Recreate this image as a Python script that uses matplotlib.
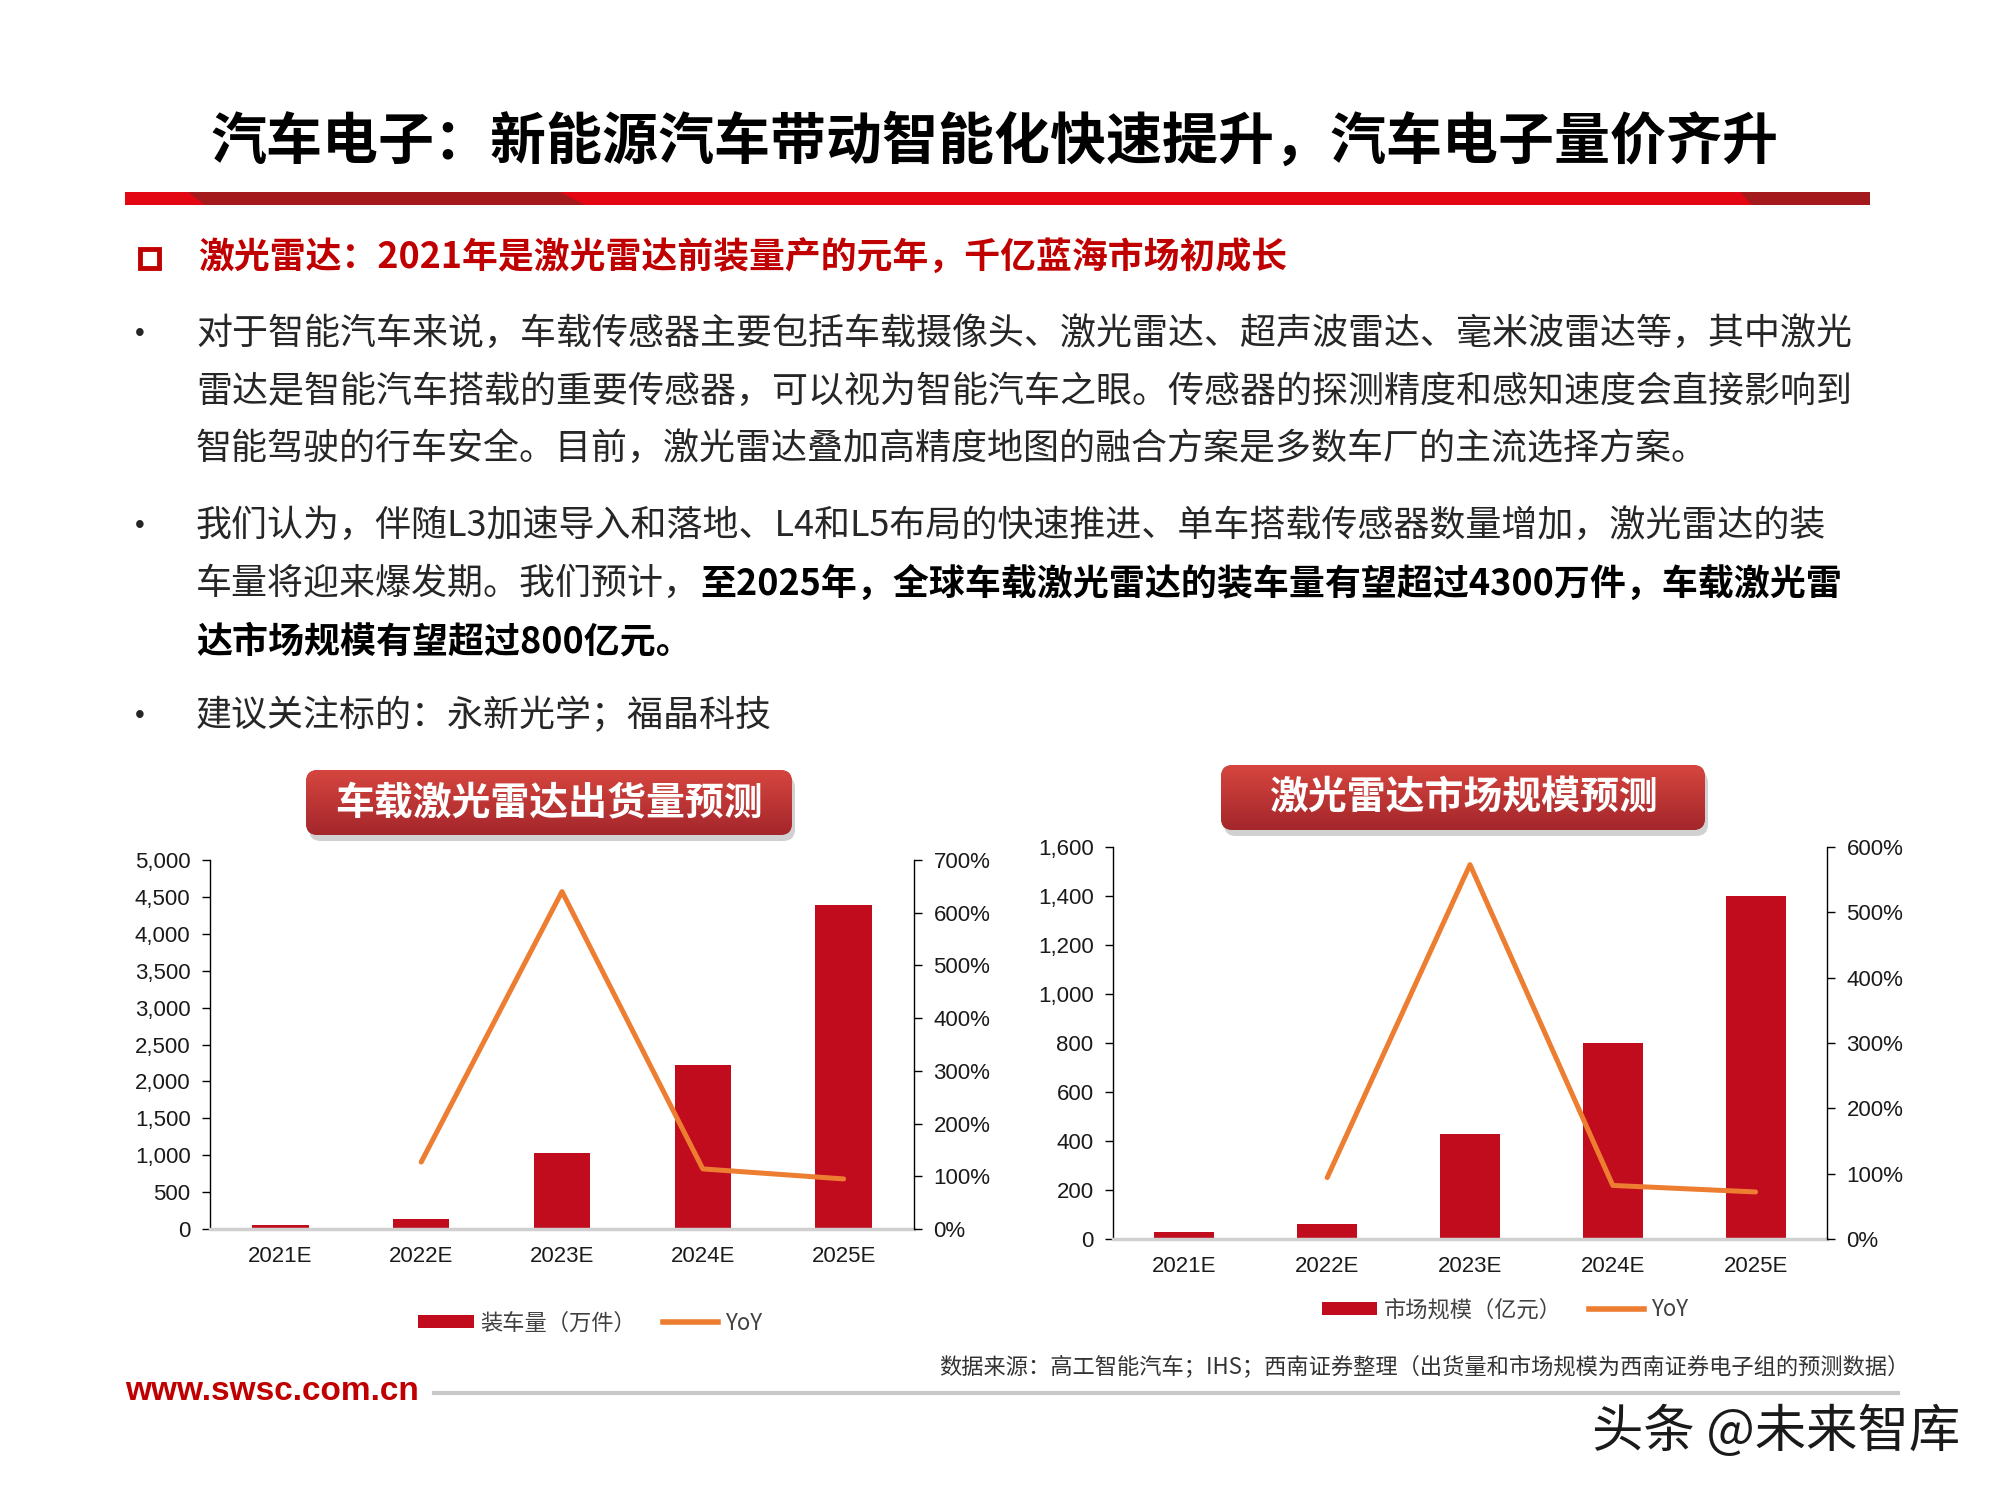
import numpy as np
import matplotlib
matplotlib.use('Agg')
import matplotlib.pyplot as plt
from matplotlib.patches import Rectangle, Polygon, FancyBboxPatch, Patch
from matplotlib.lines import Line2D
from matplotlib.colors import LinearSegmentedColormap
from matplotlib.ticker import FuncFormatter, MultipleLocator

plt.rcParams['font.family'] = ['Liberation Sans', 'Noto Sans CJK SC', 'DejaVu Sans']
CJK = ['Noto Sans CJK SC', 'DejaVu Sans']

# data
years = ['2021E', '2022E', '2023E', '2024E', '2025E']
units = [60, 135, 1034, 2219, 4397]               # 装车量（万件）
units_yoy = [np.nan, 1.27, 6.40, 1.14, 0.95]
market = [28, 61, 427, 801, 1399]                 # 市场规模（亿元）
market_yoy = [np.nan, 0.94, 5.73, 0.82, 0.72]

title = '汽车电子：新能源汽车带动智能化快速提升，汽车电子量价齐升'
subtitle = '激光雷达：2021年是激光雷达前装量产的元年，千亿蓝海市场初成长'
para1 = ['对于智能汽车来说，车载传感器主要包括车载摄像头、激光雷达、超声波雷达、毫米波雷达等，其中激光',
         '雷达是智能汽车搭载的重要传感器，可以视为智能汽车之眼。传感器的探测精度和感知速度会直接影响到',
         '智能驾驶的行车安全。目前，激光雷达叠加高精度地图的融合方案是多数车厂的主流选择方案。']
para2_a = '我们认为，伴随L3加速导入和落地、L4和L5布局的快速推进、单车搭载传感器数量增加，激光雷达的装'
para2_b = '车量将迎来爆发期。我们预计，'
para2_b_bold = '至2025年，全球车载激光雷达的装车量有望超过4300万件，车载激光雷'
para2_c_bold = '达市场规模有望超过800亿元。'
para3 = '建议关注标的：永新光学；福晶科技'
source = '数据来源：高工智能汽车；IHS；西南证券整理（出货量和市场规模为西南证券电子组的预测数据）'

RED = '#c00c1c'
ORANGE = '#ed7d31'
TXT = '#262626'
BODY = 25.9

fig = plt.figure(figsize=(20, 15), dpi=100)
bg = fig.add_axes([0, 0, 1, 1], zorder=0)
bg.set_autoscale_on(False)
bg.set_xlim(0, 2000)
bg.set_ylim(1500, 0)
bg.axis('off')

# title and red rule
bg.text(994, 143, title, family=CJK, weight='bold', fontsize=40.3, color='#000000',
        ha='center', va='center')
bg.add_patch(Rectangle((125, 192), 1745, 13, color='#e30613', lw=0))
bg.add_patch(Polygon([(188, 192), (560, 192), (585, 205), (205, 205)], color='#a3191c', lw=0))
bg.add_patch(Polygon([(1740, 192), (1870, 192), (1870, 205), (1752, 205)], color='#a3191c', lw=0))

# subtitle
bg.add_patch(Rectangle((140, 249), 19, 19, fill=False, ec='#c00000', lw=3.5))
bg.text(198, 258, subtitle, family=CJK, weight='bold', fontsize=25.8, color='#c00000',
        ha='left', va='center')

# body text
for y, line in zip([334, 392, 449], para1):
    bg.text(196, y, line, family=CJK, fontsize=BODY, color=TXT, ha='left', va='center')
bg.text(196, 526, para2_a, family=CJK, fontsize=BODY, color=TXT, ha='left', va='center')
t = bg.text(196, 584, para2_b, family=CJK, fontsize=BODY, color=TXT, ha='left', va='center')
r = fig.canvas.get_renderer()
x1 = t.get_window_extent(r).x1
bg.text(x1, 584, para2_b_bold, family=CJK, fontsize=BODY, weight='bold', color='#000000',
        ha='left', va='center')
bg.text(196, 642, para2_c_bold, family=CJK, fontsize=BODY, weight='bold', color='#000000',
        ha='left', va='center')
bg.text(196, 716, para3, family=CJK, fontsize=BODY, color=TXT, ha='left', va='center')
for y in [334, 526, 716]:
    bg.text(140, y, '•', fontsize=20, color=TXT, ha='center', va='center')

# chart title boxes
cmap = LinearSegmentedColormap.from_list('box', ['#d6463f', '#a4262b'])


def title_box(x0, y0, w, h, label):
    bg.add_patch(FancyBboxPatch((x0 + 3, y0 + 6), w, h, boxstyle='round,pad=0,rounding_size=12',
                                fc='#9a9a9a', ec='none', alpha=0.45))
    box = FancyBboxPatch((x0, y0), w, h, boxstyle='round,pad=0,rounding_size=12',
                         fc='#c0393b', ec='none')
    bg.add_patch(box)
    img = bg.imshow(np.linspace(0, 1, 100).reshape(-1, 1), cmap=cmap, aspect='auto',
                    extent=(x0, x0 + w, y0 + h, y0), zorder=2)
    img.set_clip_path(box)
    bg.text(x0 + w / 2, y0 + h / 2, label, family=CJK, weight='bold', fontsize=28,
            color='white', ha='center', va='center', zorder=3)


title_box(306, 770, 486, 65, '车载激光雷达出货量预测')
title_box(1221, 765, 484, 65, '激光雷达市场规模预测')


def chart(rect, values, yoy, ymax, ystep, rmax, bar_w, label, legend_xy):
    ax = fig.add_axes(rect, zorder=2)
    ax.patch.set_alpha(0)
    x = np.arange(len(years))
    ax.bar(x, values, width=bar_w, color=RED, zorder=2)
    ax.set_xlim(-0.5, len(years) - 0.5)
    ax.set_ylim(0, ymax)
    ax.yaxis.set_major_locator(MultipleLocator(ystep))
    ax.yaxis.set_major_formatter(FuncFormatter(lambda v, p: f'{v:,.0f}'))
    ax.set_xticks(x, years)
    ax.tick_params(axis='x', length=0, pad=12, labelsize=16, labelcolor='#1a1a1a')
    ax.tick_params(axis='y', direction='out', length=6, width=1, pad=8, labelsize=16,
                   labelcolor='#1a1a1a')
    ax.spines['top'].set_visible(False)
    ax.spines['right'].set_visible(False)
    ax.spines['left'].set_linewidth(1)
    ax.spines['bottom'].set_color('#d0d0d0')
    ax.spines['bottom'].set_linewidth(2.5)

    ax2 = ax.twinx()
    ax2.plot(x, yoy, color=ORANGE, lw=3.6, solid_capstyle='round')
    ax2.set_ylim(0, rmax)
    ax2.yaxis.set_major_locator(MultipleLocator(1))
    ax2.yaxis.set_major_formatter(FuncFormatter(lambda v, p: f'{v * 100:.0f}%'))
    ax2.tick_params(axis='y', direction='out', length=6, width=1, pad=8, labelsize=16,
                    labelcolor='#1a1a1a')
    for s in ['top', 'left', 'bottom']:
        ax2.spines[s].set_visible(False)
    ax2.spines['right'].set_linewidth(1)

    handles = [Patch(facecolor=RED, edgecolor='none'), Line2D([], [], color=ORANGE, lw=4)]
    fig.legend(handles, [label, 'YoY'], loc='center', ncol=2, frameon=False,
               bbox_to_anchor=(legend_xy[0] / 2000, 1 - legend_xy[1] / 1500),
               prop={'family': CJK, 'size': 16}, labelcolor='#404040',
               handlelength=2.5, handleheight=0.5, handletextpad=0.3, columnspacing=1.2)


chart([0.105, 1 - 1229 / 1500, 0.352, 369 / 1500], units, units_yoy, 5000, 500, 7,
      0.4, '装车量（万件）', (590, 1323))
chart([0.5565, 1 - 1239 / 1500, 0.357, 392 / 1500], market, market_yoy, 1600, 200, 6,
      0.42, '市场规模（亿元）', (1505, 1310))

# footer
bg.text(1910, 1367, source, family=CJK, fontsize=16, fontstyle='italic', color='#333333',
        ha='right', va='center')
bg.plot([434, 1898], [1393, 1393], color='#c8c8c8', lw=3)
bg.text(125, 1391, 'www.swsc.com.cn', fontsize=24, weight='bold', color='#c00000',
        ha='left', va='center')
bg.text(1592, 1432, '头条 @未来智库', family=CJK, fontsize=37, color='#1a1a1a',
        ha='left', va='center')

bg.set_xlim(0, 2000)
bg.set_ylim(1500, 0)

fig.savefig('out.png', dpi=100)
